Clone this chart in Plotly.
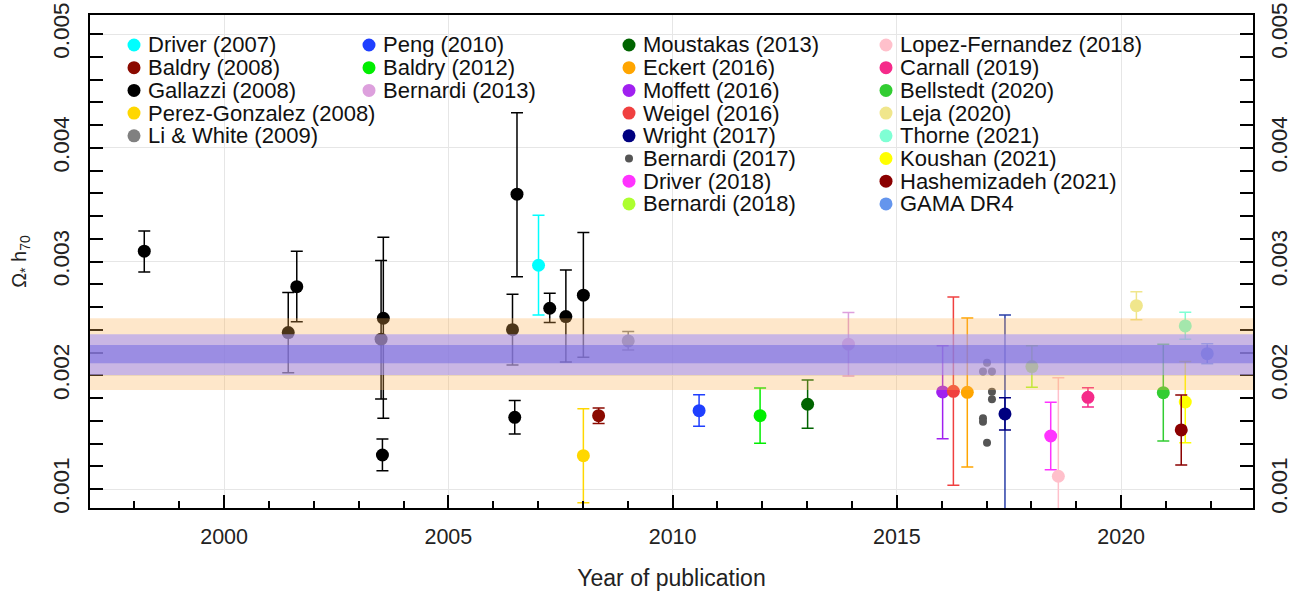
import plotly.graph_objects as go

# ---------------- data ----------------
series_names = [
    "Driver (2007)", "Baldry (2008)", "Gallazzi (2008)", "Perez-Gonzalez (2008)", "Li & White (2009)",
    "Peng (2010)", "Baldry (2012)", "Bernardi (2013)",
    "Moustakas (2013)", "Eckert (2016)", "Moffett (2016)", "Weigel (2016)", "Wright (2017)",
    "Bernardi (2017)", "Driver (2018)", "Bernardi (2018)",
    "Lopez-Fernandez (2018)", "Carnall (2019)", "Bellstedt (2020)", "Leja (2020)", "Thorne (2021)",
    "Koushan (2021)", "Hashemizadeh (2021)", "GAMA DR4",
]
series_colors = [
    "#00FFFF", "#8B0A00", "#000000", "#FFD700", "#808080",
    "#1F3FFF", "#00EE00", "#DDA0DD",
    "#006400", "#FFA500", "#A020F0", "#F04040", "#000080",
    "#555555", "#FF33FF", "#ADFF2F",
    "#FFC0CB", "#F52A8A", "#32CD32", "#F0E68C", "#7FFFD4",
    "#FFFF00", "#8B0000", "#6495ED",
]
legend_columns = [0, 0, 0, 0, 0, 1, 1, 1, 2, 2, 2, 2, 2, 2, 2, 2, 3, 3, 3, 3, 3, 3, 3, 3]

series_years = [
    [2007.01], [2008.35],
    [1998.22, 2001.62, 2001.43, 2003.55, 2003.50, 2003.53, 2006.53, 2006.43, 2006.48, 2007.26, 2007.62, 2008.01],
    [2008.01], [2009.01],
    [2010.59], [2011.95], [2013.92],
    [2013.01], [2016.57], [2016.02], [2016.26], [2017.41],
    [2017.01, 2016.92, 2017.12, 2017.12, 2017.12, 2016.92, 2016.92, 2017.01],
    [2018.43], [2018.01],
    [2018.60], [2019.26], [2020.94], [2020.34], [2021.43],
    [2021.43], [2021.34], [2021.92],
]
series_values = [
    [0.002967], [0.001645],
    [0.003091, 0.002779, 0.002375, 0.002501, 0.002317, 0.001299, 0.003592, 0.002401, 0.001630, 0.002589, 0.002516, 0.002704],
    [0.001293], [0.002302],
    [0.001689], [0.001645], [0.002273],
    [0.001745], [0.001850], [0.001853], [0.001859], [0.001660],
    [0.002111, 0.002032, 0.002032, 0.001856, 0.001789, 0.001622, 0.001592, 0.001407],
    [0.001466], [0.002076],
    [0.001112], [0.001806], [0.001847], [0.002612], [0.002434],
    [0.001765], [0.001519], [0.002190],
]
series_lo = [
    [0.002530], [0.001575],
    [0.002908, 0.002471, 0.002023, 0.001622, 0.001792, 0.001161, 0.002867, 0.002091, 0.001484, 0.002463, 0.002117, 0.002158],
    [0.000880], [0.002223],
    [0.001551], [0.001402], [0.001994],
    [0.001534], [0.001193], [0.001442], [0.001033], [0.001519],
    None,
    [0.001170], [0.001894],
    [0.000600], [0.001721], [0.001422], [0.002489], [0.002317],
    [0.001407], [0.001211], [0.002102],
]
series_hi = [
    [0.003407], [0.001712],
    [0.003269, 0.003091, 0.002727, 0.003214, 0.003008, 0.001440, 0.004307, 0.002712, 0.001777, 0.002721, 0.002926, 0.003254],
    [0.001706], [0.002384],
    [0.001829], [0.001888], [0.002551],
    [0.001959], [0.002504], [0.002260], [0.002689], [0.001803],
    None,
    [0.001762], [0.002260],
    [0.001979], [0.001891], [0.002273], [0.002733], [0.002554],
    [0.002120], [0.001827], [0.002278],
]
# Wright (2017) second (outer) uncertainty
wright_outer_year = [2017.41]
wright_outer_value = [0.001660]
wright_outer_lo = [0.000500]
wright_outer_hi = [0.002530]

# horizontal consensus bands (lower, upper)
band_orange = [0.001871, 0.002501]
band_light = [0.002003, 0.002361]
band_dark = [0.002106, 0.002267]

x_range = [1997.01, 2022.94]
y_range = [0.000833, 0.005167]

# ---------------- figure ----------------
FONT = "Liberation Sans, Arial, sans-serif"
fig = go.Figure()

# Wright outer bar first (behind)
fig.add_trace(go.Scatter(
    x=wright_outer_year, y=wright_outer_value, mode="markers",
    marker=dict(size=13, color="rgba(0,0,128,0)"),
    error_y=dict(type="data", symmetric=False,
                 array=[h - v for h, v in zip(wright_outer_hi, wright_outer_value)],
                 arrayminus=[v - l for l, v in zip(wright_outer_lo, wright_outer_value)],
                 color="#2A3FA8", thickness=1.5, width=6),
    showlegend=False, hoverinfo="skip"))

for name, color, xs, ys, lo, hi in zip(series_names, series_colors, series_years,
                                        series_values, series_lo, series_hi):
    small = lo is None
    err = None
    if not small:
        err = dict(type="data", symmetric=False,
                   array=[h - v for h, v in zip(hi, ys)],
                   arrayminus=[v - l for l, v in zip(lo, ys)],
                   color=color, thickness=1.5, width=6)
    fig.add_trace(go.Scatter(
        x=xs, y=ys, mode="markers", name=name,
        marker=dict(size=8 if small else 13, color=color, line=dict(width=0)),
        error_y=err, showlegend=False))

# invisible trace so the right-hand axis is drawn
fig.add_trace(go.Scatter(x=[x_range[0]], y=[y_range[0]], yaxis="y2", mode="markers",
                         marker=dict(opacity=0), showlegend=False, hoverinfo="skip"))

# bands drawn above the points (semi-transparent)
for (lo_b, hi_b), col in [(band_orange, "rgba(253,176,80,0.30)"),
                          (band_light, "rgba(165,150,245,0.60)"),
                          (band_dark, "rgba(110,100,225,0.50)")]:
    fig.add_shape(type="rect", xref="paper", yref="y", x0=0, x1=1, y0=lo_b, y1=hi_b,
                  fillcolor=col, line=dict(width=0), layer="above")

# custom 4-column legend
L, R, T, B = 90, 51, 15, 83
W, H = 1304 - L - R, 591 - T - B
col_px = [134, 369, 629, 886]
row0, row_dy = 45, 22.7
row_count = [0, 0, 0, 0]
for name, color, col, lo in zip(series_names, series_colors, legend_columns, series_lo):
    r = row_count[col]
    row_count[col] += 1
    px = (col_px[col] - L) / W
    py = (T + H - (row0 + r * row_dy)) / H
    rad = 4 if lo is None else 6.5
    fig.add_shape(type="circle", xref="paper", yref="paper", xsizemode="pixel", ysizemode="pixel",
                  xanchor=px, yanchor=py, x0=-rad, x1=rad, y0=-rad, y1=rad,
                  fillcolor=color, line=dict(width=0), layer="above")
    fig.add_annotation(x=px, y=py, xref="paper", yref="paper", text=name, showarrow=False,
                       xanchor="left", yanchor="middle", xshift=12,
                       font=dict(family=FONT, size=22, color="#111"))

axis_common = dict(showline=True, linewidth=2, linecolor="black", zeroline=False, automargin=False)
fig.update_layout(
    width=1304, height=591,
    margin=dict(l=L, r=R, t=T, b=B),
    paper_bgcolor="white", plot_bgcolor="white",
    font=dict(family=FONT, color="#222"),
    xaxis=dict(range=x_range, tick0=2000, dtick=5, ticks="inside", ticklen=13, tickwidth=1.5,
               tickcolor="black", mirror=True, showgrid=True, gridcolor="#e6e6e6", gridwidth=1,
               minor=dict(dtick=1, ticks="inside", ticklen=7, tickwidth=1.5, tickcolor="black",
                          showgrid=False),
               tickfont=dict(size=21.5, family=FONT, color="#222"), ticklabelstandoff=8,
               title=dict(text="Year of publication", font=dict(size=23, family=FONT, color="#222"),
                          standoff=22),
               **axis_common),
    yaxis=dict(range=y_range, tick0=0.001, dtick=0.001, tickformat=".3f", ticks="inside",
               ticklen=13, tickwidth=1.5, tickcolor="black", mirror=True, showgrid=True,
               gridcolor="#e6e6e6", gridwidth=1, tickangle=-90,
               minor=dict(dtick=0.0002, ticks="inside", ticklen=13, tickwidth=1.5,
                          tickcolor="black", showgrid=False),
               tickfont=dict(size=22.5, family=FONT, color="#222"), ticklabelstandoff=10,
               title=dict(text="Ω<sub>*</sub> h<sub>70</sub>", font=dict(size=20, family=FONT, color="#222"),
                          standoff=17),
               **axis_common),
    yaxis2=dict(overlaying="y", side="right", matches="y", range=y_range, tick0=0.001, dtick=0.001,
                tickformat=".3f", ticks="inside", ticklen=13, tickwidth=1.5, tickcolor="black",
                showgrid=False, tickangle=-90, automargin=False,
                minor=dict(dtick=0.0002, ticks="inside", ticklen=13, tickwidth=1.5,
                           tickcolor="black", showgrid=False),
                tickfont=dict(size=22.5, family=FONT, color="#222"), ticklabelstandoff=10,
                showline=False, zeroline=False),
    showlegend=False,
)

fig.write_html("out.html", config={"displayModeBar": False},
               post_script="document.body.style.margin='0px';")
